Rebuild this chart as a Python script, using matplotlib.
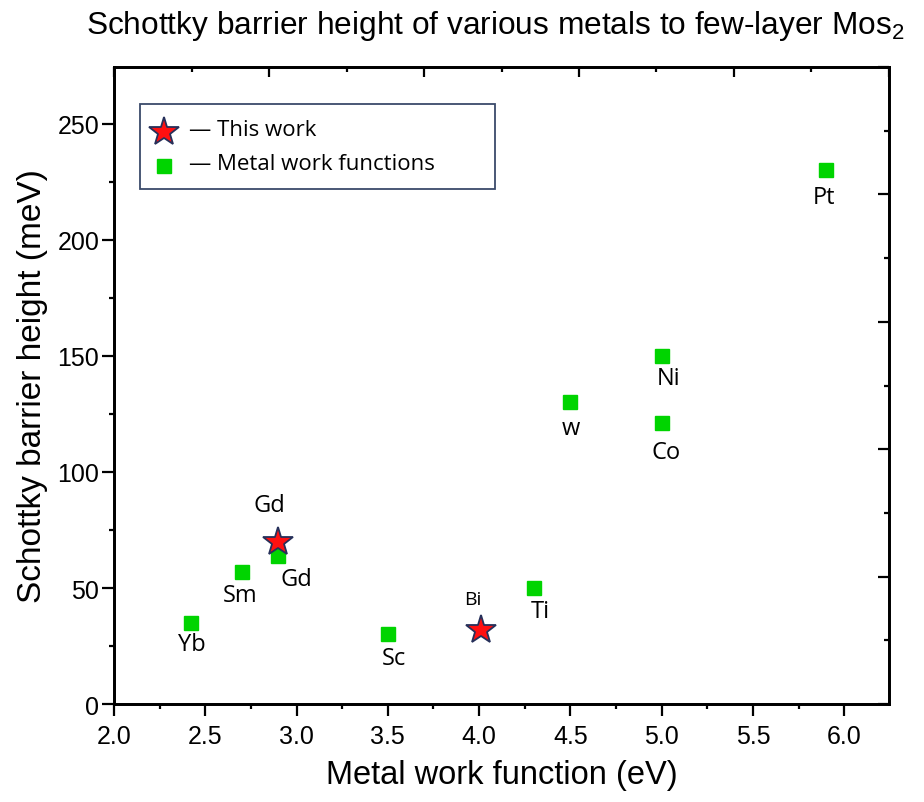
import matplotlib
matplotlib.use("Agg")
import matplotlib.pyplot as plt
from matplotlib.patches import Rectangle
from matplotlib.ticker import MultipleLocator, FormatStrFormatter

# Metal work functions (eV) and Schottky barrier heights (meV)
metals = ["Yb", "Sm", "Gd", "Sc", "Ti", "w", "Ni", "Co", "Pt"]
metal_wf = [2.42, 2.7, 2.9, 3.5, 4.3, 4.5, 5.0, 5.0, 5.9]
metal_sbh = [35, 57, 64, 30, 50, 130, 150, 121, 230]

# Values measured in this work
work_names = ["Gd", "Bi"]
work_wf = [2.9, 4.01]
work_sbh = [70, 32]

legend_labels = ["\u2014 This work", "\u2014 Metal work functions"]

# label offsets (points) relative to each marker
metal_offsets = [(0.7, -15), (-1.4, -16.5), (13, -17), (4.3, -17), (4.3, -16.5),
                 (0, -18.5), (5, -16), (3, -21), (-1.4, -19.5)]
work_offsets = [(-6.5, 26), (-6, 22)]
work_label_sizes = [17, 14]

sans = "Liberation Sans"
label_font = "Open Sans"
green = "#00d400"
star_style = dict(color="#ff1010", markeredgecolor="#26305a",
                  markeredgewidth=1.3, markersize=22)
square_style = dict(color=green, markersize=9.6)

fig = plt.figure(figsize=(9.24, 8.03), dpi=100)
ax = fig.add_axes([0.1234, 0.122, 0.8387, 0.7933])

ax.plot(metal_wf, metal_sbh, "s", ls="none", zorder=3, **square_style)
ax.plot(work_wf, work_sbh, "*", ls="none", zorder=4, **star_style)

for name, x, y, off in zip(metals, metal_wf, metal_sbh, metal_offsets):
    ax.annotate(name, (x, y), xytext=off, textcoords="offset points",
                ha="center", va="center", fontsize=17, family=label_font)
for name, x, y, off, fs in zip(work_names, work_wf, work_sbh, work_offsets, work_label_sizes):
    ax.annotate(name, (x, y), xytext=off, textcoords="offset points",
                ha="center", va="center", fontsize=fs, family=label_font)

ax.set_xlim(2.0, 6.245)
ax.set_ylim(0, 274.5)
ax.xaxis.set_major_locator(MultipleLocator(0.5))
ax.xaxis.set_minor_locator(MultipleLocator(0.25))
ax.yaxis.set_major_locator(MultipleLocator(50))
ax.yaxis.set_minor_locator(MultipleLocator(25))
ax.xaxis.set_major_formatter(FormatStrFormatter("%.1f"))
ax.tick_params(which="major", direction="out", length=8.6, width=1.6, labelsize=18)
ax.tick_params(axis="x", which="major", pad=6)
ax.tick_params(axis="y", which="major", pad=2)
ax.tick_params(which="minor", direction="out", length=3.6, width=1.6)
ax.tick_params(top=False, right=False)
for lab in ax.get_xticklabels() + ax.get_yticklabels():
    lab.set_family(sans)
for sp in ax.spines.values():
    sp.set_linewidth(1.8)

# top and right frame ticks (inward, own spacing)
top = ax.twiny()
top.set_xlim(0, 10)
top.xaxis.set_major_locator(MultipleLocator(2))
top.xaxis.set_minor_locator(MultipleLocator(1))
top.tick_params(which="major", direction="in", length=7.2, width=1.6, labeltop=False)
top.tick_params(which="minor", direction="in", length=3.4, width=1.6)
right = ax.twinx()
right.set_ylim(0, 10)
right.yaxis.set_major_locator(MultipleLocator(2))
right.yaxis.set_minor_locator(MultipleLocator(1))
right.tick_params(which="major", direction="in", length=7.8, width=1.6, labelright=False)
right.tick_params(which="minor", direction="in", length=3.4, width=1.6)
for a in (top, right):
    for sp in a.spines.values():
        sp.set_linewidth(1.8)

ax.set_xlabel("Metal work function (eV)", fontsize=23.5, family=sans, labelpad=8)
ax.set_ylabel("Schottky barrier height (meV)", fontsize=24, family=sans)
ax.yaxis.set_label_coords(-0.085, 0.5)
fig.text(0.536, 0.968, r"Schottky barrier height of various metals to few-layer Mos$_\mathregular{2}$",
         ha="center", va="center", fontsize=22.8, family=sans)

# legend box with marker keys
ax.add_patch(Rectangle((0.034, 0.808), 0.458, 0.134, transform=ax.transAxes,
                       facecolor="white", edgecolor="#3a4a6a", linewidth=1.3, zorder=8))
ax.plot([0.0649], [0.898], "*", transform=ax.transAxes, zorder=9, clip_on=False, **star_style)
ax.plot([0.0649], [0.845], "s", transform=ax.transAxes, zorder=9, clip_on=False, **square_style)
for lab, ty in zip(legend_labels, [0.902, 0.848]):
    ax.text(0.097, ty, lab, transform=ax.transAxes, ha="left", va="center",
            fontsize=16, family=label_font, zorder=9)

fig.savefig("out.png", dpi=100)
